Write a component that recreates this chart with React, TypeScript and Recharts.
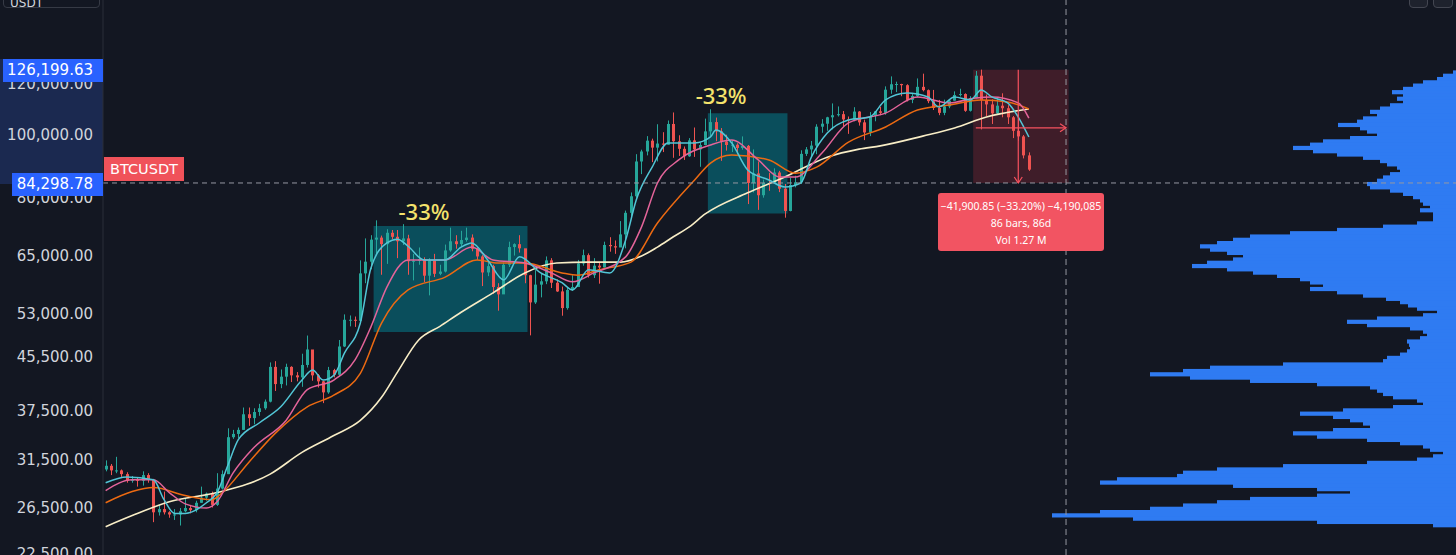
import {
  Bar,
  BarChart,
  ComposedChart,
  Line,
  ReferenceArea,
  ReferenceDot,
  ReferenceLine,
  XAxis,
  YAxis,
} from 'recharts'

// 5-day candles, first one starting 2023-06-30
const firstOpen = 30400
const closes = [
  30800, 30300, 30300, 29900, 29200, 29300, 29200, 29800, 29300, 26100,
  26400, 26100, 25900, 25900, 26200, 26500, 26300, 27000, 27500, 27900,
  26800, 28400, 29900, 34100, 34500, 35000, 37000, 36500, 37300, 37800,
  38700, 43800, 41200, 42300, 43800, 42500, 42200, 44100, 46600, 42500,
  41600, 40000, 43300, 42600, 47100, 51800, 51800, 51600, 61100, 63700,
  68900, 69400, 67800, 70600, 69600, 68500, 69200, 63800, 63900, 64300,
  60600, 63900, 61000, 61500, 66300, 68500, 67800, 68800, 69400, 66700,
  64900, 61300, 62700, 58200, 56700, 63000, 67100, 67800, 66800, 60700,
  55100, 58700, 59400, 64000, 59100, 57300, 54000, 57600, 58200, 63300,
  65200, 60700, 62800, 62400, 67600, 67300, 67000, 70200, 75800, 80400,
  91000, 94300, 98000, 95600, 97000, 96600, 104000, 97800, 95200, 92700,
  98100, 95000, 96500, 101300, 104700, 101300, 97700, 96500, 96600, 95500,
  96200, 84300, 87200, 80700, 84300, 84200, 87500, 82600, 76300, 83700,
  84500, 93500, 95000, 96300, 103000, 104100, 106500, 107300, 107700, 105700,
  105600, 108700, 104600, 100900, 107000, 108800, 108200, 117500, 119800, 119900,
  119400, 113300, 114900, 118700, 117300, 112800, 110100, 108200, 110700, 113000,
  115300, 115700, 109000, 114000, 123500, 113200, 111500, 108000, 111000, 110000,
  106500, 101500, 99500, 93000, 88400,
]
const highs = [
  31400, 31000, 31800, 30400, 30100, 29700, 29500, 30200, 30000, 29400,
  26800, 28100, 26200, 26400, 26500, 27400, 26800, 27200, 28600, 28000,
  28100, 30000, 30300, 35200, 35000, 35300, 37900, 37900, 37800, 38400,
  39000, 44500, 44700, 43400, 44300, 43900, 43000, 45900, 48970, 46200,
  42700, 41700, 43800, 43500, 48200, 52800, 52600, 52400, 64000, 69200,
  70000, 73800, 69900, 71500, 71300, 71300, 72800, 70100, 65500, 67000,
  64700, 64500, 65500, 63000, 67700, 71900, 70000, 71100, 71900, 70200,
  67000, 65200, 63800, 63000, 59000, 63500, 68400, 68000, 70000, 66000,
  60800, 61800, 61000, 64900, 64500, 59800, 58300, 58000, 60700, 64100,
  66500, 65600, 64500, 63400, 68400, 69500, 68700, 73600, 76400, 81500,
  93400, 94900, 99600, 98700, 103900, 101000, 105300, 108350, 99900, 96000,
  98900, 102700, 97400, 106000, 109600, 106400, 102500, 100100, 98100, 97100,
  99500, 96500, 95000, 91000, 85300, 87400, 88800, 88000, 84000, 85900,
  86500, 94700, 95800, 97900, 103900, 105800, 106700, 111900, 110700, 108900,
  106800, 110400, 108900, 105600, 108500, 108900, 110500, 118900, 123200, 120900,
  120000, 119800, 115700, 122300, 124400, 117600, 117400, 113300, 113400, 113300,
  116800, 117900, 116000, 114800, 125600, 126199.63, 115500, 113500, 114000, 116000,
  111200, 107000, 107500, 100000, 94000,
]
const lows = [
  30200, 29800, 30000, 29600, 29000, 29000, 28600, 28700, 29000, 25200,
  25800, 25900, 25600, 25400, 24900, 26100, 26000, 26100, 27000, 27200,
  26550, 26700, 28300, 29900, 33900, 34000, 35000, 35500, 35700, 36800,
  37600, 38600, 40200, 40600, 41000, 41500, 41600, 40800, 43700, 41700,
  40700, 38500, 39800, 42200, 42300, 47000, 50600, 50500, 51000, 59000,
  62000, 65600, 60800, 63200, 69000, 64500, 67600, 60800, 59600, 63000,
  59200, 56500, 60300, 60700, 61300, 66000, 66700, 67300, 68400, 66100,
  64100, 58400, 60500, 56800, 53500, 57000, 62500, 65100, 65800, 59000,
  49000, 54800, 56100, 58800, 58000, 57200, 52550, 53700, 57400, 58700,
  62800, 60200, 60100, 58900, 62400, 66000, 65500, 68600, 66800, 74500,
  80000, 87000, 93000, 90800, 91000, 94100, 96600, 92200, 92800, 91500,
  92500, 92500, 89300, 96400, 99500, 97800, 91200, 94600, 94100, 93400,
  94900, 78200, 81500, 76600, 80000, 82000, 84000, 81600, 74500, 76200,
  83000, 84000, 92800, 92800, 93400, 100800, 101500, 102000, 106800, 103000,
  100400, 105000, 103400, 98200, 99600, 105000, 107300, 107500, 115800, 116500,
  114800, 112700, 112000, 114300, 116800, 112000, 109300, 107300, 107300, 110000,
  113000, 114700, 108600, 108700, 113900, 102000, 107000, 104000, 107500, 106500,
  104000, 98900, 98000, 92000, 88000,
]

// moving averages as [candle, price]
const maFast = [
  [0, 29000], [4, 29600], [9, 29300], [11, 27300], [13, 26000], [15, 26000], [19, 27000],
  [21, 28000], [23, 30800], [25, 33800], [29, 35900], [33, 38000], [37, 41800], [39, 43300],
  [41, 41800], [43, 42500], [45, 46000], [48, 51200], [50, 62300], [53, 68100], [55, 69000],
  [57, 67300], [60, 64100], [64, 64100], [67, 67100], [69, 68100], [72, 64100], [75, 59700],
  [78, 64800], [82, 61200], [86, 59100], [88, 57600], [91, 61900], [95, 61200], [98, 68800],
  [100, 79350], [103, 89200], [106, 97200], [111, 97200], [114, 99300], [115, 101800],
  [118, 97200], [121, 88300], [125, 85200], [128, 83100], [131, 84300], [133, 92400],
  [136, 100700], [140, 105500], [144, 106600], [147, 113300], [151, 116100], [155, 114500],
  [157, 110500], [160, 114500], [163, 113300], [165, 117400], [167, 114500], [170, 112100],
  [172, 106600], [174, 99300],
]
const maMid = [
  [0, 28200], [5, 29300], [9, 29300], [12, 28000], [15, 26900], [19, 26500], [21, 27100],
  [24, 30000], [28, 32900], [34, 36200], [38, 40400], [43, 41800], [47, 44900], [50, 50500],
  [53, 58200], [57, 64100], [64, 64100], [69, 67100], [73, 64100], [79, 63400], [84, 61200],
  [88, 59300], [92, 61200], [98, 64800], [101, 72100], [104, 84300], [108, 91500],
  [114, 96500], [118, 98200], [123, 91500], [127, 86100], [130, 86100], [135, 93800],
  [140, 104400], [147, 108100], [153, 114500], [159, 112100], [164, 114100], [167, 114500],
  [172, 112100], [174, 106200],
]
const maSlow = [
  [0, 27000], [5, 28100], [9, 28500], [15, 27700], [20, 27300], [22, 28000], [27, 31200],
  [32, 34600], [38, 38000], [43, 39600], [48, 42800], [52, 51200], [57, 57600], [64, 60300],
  [70, 64100], [74, 63400], [79, 63400], [86, 61200], [89, 60700], [93, 61900], [99, 63600],
  [104, 73100], [111, 85200], [114, 90500], [118, 93100], [125, 91500], [130, 87300],
  [134, 89200], [140, 97500], [147, 102900], [153, 109300], [159, 111300], [165, 113300],
  [170, 112500], [174, 109700],
]
const ma200 = [
  [0, 24800], [5, 25800], [12, 27100], [21, 28000], [31, 29900], [37, 32300], [43, 34300],
  [48, 36200], [52, 39300], [55, 43000], [59, 48200], [63, 50600], [67, 53200], [73, 57000],
  [79, 61200], [85, 63400], [91, 63600], [97, 63600], [101, 65000], [104, 67100],
  [107, 69600], [110, 72100], [113, 75500], [121, 81400], [128, 86100], [136, 92400],
  [142, 95100], [146, 96200], [154, 99600], [160, 102500], [166, 106600], [174, 109700],
]

// visible-range volume profile, top row to bottom row
const profileVolume = [
  3, 13, 19, 33, 43, 53, 64, 53, 59, 53, 66, 76, 86, 79, 93, 99, 118, 96, 89, 79,
  106, 133, 146, 163, 143, 119, 93, 76, 69, 59, 56, 66, 73, 79, 89, 86, 66, 53, 43, 36,
  33, 26, 36, 23, 23, 23, 39, 73, 119, 166, 206, 223, 239, 256, 246, 229, 213, 223, 249, 264,
  229, 203, 179, 156, 146, 133, 146, 119, 93, 70, 56, 48, 39, 19, 33, 79, 109, 89, 46, 33,
  29, 36, 49, 47, 46, 49, 56, 69, 73, 173, 246, 273, 306, 266, 206, 139, 86, 79, 73, 63,
  39, 33, 63, 113, 156, 123, 106, 93, 86, 123, 163, 139, 89, 56, 33, 26, 13, 23, 39, 89,
  173, 239, 273, 279, 339, 356, 223, 139, 106, 139, 206, 239, 273, 306, 356, 404, 323, 139, 23,
]

const priceTicks = [22500, 26500, 31500, 37500, 45500, 53000, 65000, 80000, 100000, 120000]
const ruler = { from: 126199.63, to: 84298.78, mid: 102600, start: 164, end: 181, at: 172 }
const drawdowns = [
  { x1: 51, x2: 79, top: 72300, bottom: 49600, labelAt: 60, labelPrice: 76000 },
  { x1: 114, x2: 128, top: 108000, bottom: 75600, labelAt: 116, labelPrice: 114900 },
]

const W = 1456
const H = 555
const AXIS_W = 103
const SLOTS = 255
const BG = '#131722'
const UP = '#26a69a'
const DOWN = '#ef5350'
const RULER = '#f7525f'
const PROFILE = '#2f7bf2'

const table: any[] = Array.from({ length: SLOTS }, (_, i) => {
  const row: any = { i }
  if (i < closes.length) {
    row.open = i === 0 ? firstOpen : closes[i - 1]
    row.close = closes[i]
    row.high = highs[i]
    row.low = lows[i]
    row.range = [lows[i], highs[i]]
  }
  return row
})
const addSeries = (key: string, pts: number[][]) => {
  for (const [i, v] of pts) table[i][key] = v
}
addSeries('fast', maFast)
addSeries('mid', maMid)
addSeries('slow', maSlow)
addSeries('long', ma200)

const profileTable = profileVolume.map((vol, row) => ({ row, vol }))

const fmt = (v: number) => v.toLocaleString('en-US', { minimumFractionDigits: 2, maximumFractionDigits: 2 })

function Candle(props: any) {
  const { x, y, width, height, payload } = props
  if (!payload || payload.close == null || !Number.isFinite(y) || !Number.isFinite(height)) return null
  const { open, close, high, low } = payload
  const top = Math.min(y, y + height)
  const span = Math.abs(height)
  const k = Math.log(high) - Math.log(low)
  const at = (v: number) => top + (k > 0 ? (span * (Math.log(high) - Math.log(v))) / k : 0)
  const bodyTop = at(Math.max(open, close))
  const bodyBottom = at(Math.min(open, close))
  const color = close >= open ? UP : DOWN
  const cx = Math.round(x + width / 2) + 0.5
  return (
    <g>
      <line x1={cx} x2={cx} y1={top} y2={top + span} stroke={color} strokeWidth={1} />
      <rect x={cx - width / 2} y={bodyTop} width={width} height={Math.max(1, bodyBottom - bodyTop)} fill={color} />
    </g>
  )
}

// profile rows are drawn slightly taller than their band so they merge into one silhouette
function ProfileRow(props: any) {
  const { x, y, width, height } = props
  if (!Number.isFinite(x) || !Number.isFinite(width)) return null
  const left = Math.min(x, x + width)
  return <rect x={left} y={y - 0.6} width={Math.abs(width)} height={Math.abs(height) + 1.2} fill={PROFILE} />
}

const ArrowDown = ({ cx, cy }: any) => (
  <path d={`M${cx - 4},${cy - 6}L${cx},${cy}L${cx + 4},${cy - 6}`} fill="none" stroke={RULER} strokeWidth={1.2} />
)
const ArrowRight = ({ cx, cy }: any) => (
  <path d={`M${cx - 6},${cy - 4}L${cx},${cy}L${cx - 6},${cy + 4}`} fill="none" stroke={RULER} strokeWidth={1.2} />
)

const tag = (extra: any) => ({
  position: 'absolute' as const,
  color: '#fff',
  fontFamily: 'DejaVu Sans',
  fontSize: 15,
  boxSizing: 'border-box' as const,
  whiteSpace: 'nowrap' as const,
  ...extra,
})

export default function App() {
  return (
    <div style={{ position: 'fixed', left: 0, top: 0, width: W, height: H, background: BG, overflow: 'hidden' }}>
      <div style={{ position: 'absolute', left: 0, top: 59, width: AXIS_W, height: 125, background: '#1b2950' }} />

      <div style={{ position: 'absolute', left: AXIS_W, top: 0 }}>
        <BarChart
          width={W - AXIS_W}
          height={H}
          layout="vertical"
          data={profileTable}
          margin={{ top: 71, right: 0, bottom: 28, left: 0 }}
          barCategoryGap={0}
          barGap={0}
        >
          <XAxis type="number" hide reversed domain={[0, W - AXIS_W]} />
          <YAxis type="category" dataKey="row" hide />
          <Bar dataKey="vol" fill={PROFILE} shape={ProfileRow} isAnimationActive={false} />
        </BarChart>
      </div>

      <div style={{ position: 'absolute', left: 0, top: 0 }}>
        <ComposedChart width={W} height={H} data={table} margin={{ top: 0, right: 0, bottom: 0, left: 0 }}>
          <XAxis dataKey="i" type="category" hide />
          <YAxis
            scale="log"
            domain={[22420, 161700]}
            allowDataOverflow
            ticks={priceTicks}
            interval={0}
            tickFormatter={fmt}
            width={AXIS_W}
            tickLine={false}
            tickSize={0}
            tickMargin={10}
            axisLine={{ stroke: '#2a2e39' }}
            tick={{ fill: '#d1d4dc', fontSize: 15, fontFamily: 'DejaVu Sans' }}
          />
          {drawdowns.map((d) => (
            <ReferenceArea key={d.x1} x1={d.x1} x2={d.x2} y1={d.bottom} y2={d.top} fill="#0097a7" fillOpacity={0.44} stroke="none" />
          ))}
          <ReferenceArea x1={ruler.start} x2={ruler.end} y1={ruler.to} y2={ruler.from} fill="#f23645" fillOpacity={0.2} stroke="none" />
          <Bar dataKey="range" shape={Candle} barSize={3} isAnimationActive={false} />
          <Line dataKey="long" stroke="#f8edc6" strokeWidth={1.6} dot={false} connectNulls type="monotone" isAnimationActive={false} />
          <Line dataKey="slow" stroke="#ec6a12" strokeWidth={1.5} dot={false} connectNulls type="monotone" isAnimationActive={false} />
          <Line dataKey="mid" stroke="#e4649a" strokeWidth={1.5} dot={false} connectNulls type="monotone" isAnimationActive={false} />
          <Line dataKey="fast" stroke="#52c6d6" strokeWidth={1.5} dot={false} connectNulls type="monotone" isAnimationActive={false} />
          <ReferenceLine y={ruler.to} stroke="#9598a1" strokeDasharray="5 4" />
          <ReferenceLine x={ruler.end} stroke="#9598a1" strokeDasharray="6 4" />
          <ReferenceLine segment={[{ x: ruler.at, y: ruler.from }, { x: ruler.at, y: ruler.to }]} stroke={RULER} strokeWidth={1.2} />
          <ReferenceLine segment={[{ x: ruler.start, y: ruler.mid }, { x: ruler.end, y: ruler.mid }]} stroke={RULER} strokeWidth={1.2} />
          <ReferenceDot x={ruler.at} y={ruler.to} r={0} shape={ArrowDown} />
          <ReferenceDot x={ruler.end} y={ruler.mid} r={0} shape={ArrowRight} />
          {drawdowns.map((d) => (
            <ReferenceDot
              key={`l${d.x1}`}
              x={d.labelAt}
              y={d.labelPrice}
              r={0}
              fill="none"
              stroke="none"
              label={{ value: '-33%', position: 'center', fill: '#f5e36c', fontSize: 22, fontFamily: 'Noto Sans', fontWeight: 500 }}
            />
          ))}
        </ComposedChart>
      </div>

      <div style={tag({ left: 3, top: -15, width: 97, height: 23, background: BG, border: '1px solid #363a45', borderRadius: 4, color: '#d1d4dc', fontSize: 12, paddingLeft: 6, lineHeight: '34px' })}>
        USDT
      </div>
      <div style={tag({ left: 1409, top: -12, width: 19, height: 20, border: '1px solid #434651', borderRadius: 4, background: '#1e222d' })} />
      <div style={tag({ left: 1433, top: -12, width: 20, height: 20, border: '1px solid #434651', borderRadius: 4, background: '#1e222d' })} />

      <div style={tag({ left: 3, top: 59, width: 100, height: 23, background: '#2962ff', textAlign: 'right', paddingRight: 10, lineHeight: '23px' })}>
        {fmt(ruler.from)}
      </div>
      <div style={tag({ left: 12, top: 173, width: 91, height: 23, background: '#2962ff', textAlign: 'right', paddingRight: 10, lineHeight: '23px' })}>
        {fmt(ruler.to)}
      </div>
      <div style={tag({ left: 104, top: 157, width: 80, height: 24, background: '#f0525a', textAlign: 'center', lineHeight: '24px', fontSize: 14.5 })}>
        BTCUSDT
      </div>

      <div
        style={tag({
          left: 938,
          top: 193,
          width: 166,
          height: 58,
          background: '#f25462',
          borderRadius: 3,
          textAlign: 'center',
          fontFamily: 'Noto Sans',
          fontSize: 10.5,
          lineHeight: '17px',
          paddingTop: 5,
        })}
      >
        <div>−41,900.85 (−33.20%) −4,190,085</div>
        <div>86 bars, 86d</div>
        <div>Vol 1.27 M</div>
      </div>
    </div>
  )
}
